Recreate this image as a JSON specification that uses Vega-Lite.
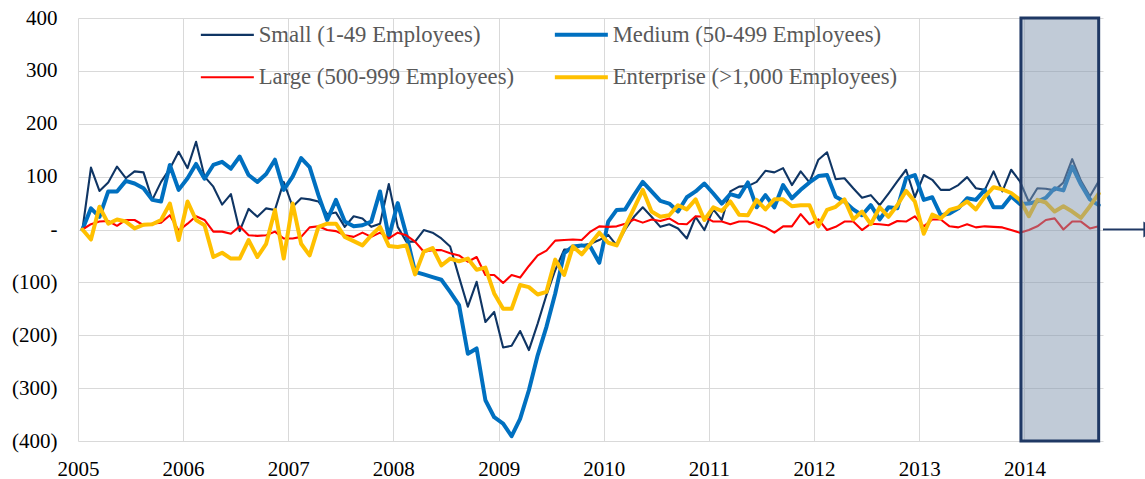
{
  "$schema": "https://vega.github.io/schema/vega-lite/v6.json",
  "width": 1025,
  "height": 423,
  "autosize": {"type": "none"},
  "padding": {"left": 78, "top": 18, "right": 42, "bottom": 38},
  "background": "white",
  "config": {
    "view": {"stroke": null},
    "font": "Liberation Serif",
    "axis": {"labelFont": "Liberation Serif", "labelFontSize": 21, "labelColor": "#000000", "gridColor": "#d9d9d9", "gridWidth": 1, "domain": false, "ticks": false, "title": null, "labelOverlap": false}
  },
  "layer": [
    {
      "data": {"values": [
        {"d":"2005-01","s":0,"m":0,"l":0,"e":0},
        {"d":"2005-02","s":117,"m":40,"l":10,"e":-19},
        {"d":"2005-03","s":73,"m":24,"l":15,"e":43},
        {"d":"2005-04","s":89,"m":72,"l":16,"e":11},
        {"d":"2005-05","s":119,"m":72,"l":7,"e":19},
        {"d":"2005-06","s":97,"m":92,"l":18,"e":15},
        {"d":"2005-07","s":110,"m":87,"l":18,"e":2},
        {"d":"2005-08","s":108,"m":78,"l":8,"e":9},
        {"d":"2005-09","s":56,"m":56,"l":11,"e":10},
        {"d":"2005-10","s":90,"m":53,"l":13,"e":18},
        {"d":"2005-11","s":115,"m":122,"l":27,"e":49},
        {"d":"2005-12","s":147,"m":75,"l":-2,"e":-20},
        {"d":"2006-01","s":116,"m":97,"l":11,"e":53},
        {"d":"2006-02","s":166,"m":124,"l":25,"e":18},
        {"d":"2006-03","s":100,"m":96,"l":18,"e":8},
        {"d":"2006-04","s":81,"m":122,"l":-4,"e":-52},
        {"d":"2006-05","s":47,"m":128,"l":-4,"e":-44},
        {"d":"2006-06","s":67,"m":115,"l":-8,"e":-55},
        {"d":"2006-07","s":-3,"m":138,"l":6,"e":-55},
        {"d":"2006-08","s":39,"m":103,"l":-11,"e":-20},
        {"d":"2006-09","s":24,"m":90,"l":-12,"e":-52},
        {"d":"2006-10","s":40,"m":105,"l":-11,"e":-27},
        {"d":"2006-11","s":37,"m":132,"l":-4,"e":37},
        {"d":"2006-12","s":90,"m":75,"l":-17,"e":-55},
        {"d":"2007-01","s":43,"m":100,"l":-17,"e":49},
        {"d":"2007-02","s":59,"m":135,"l":-14,"e":-27},
        {"d":"2007-03","s":57,"m":118,"l":4,"e":-49},
        {"d":"2007-04","s":53,"m":65,"l":6,"e":5},
        {"d":"2007-05","s":29,"m":18,"l":-1,"e":11},
        {"d":"2007-06","s":32,"m":56,"l":-3,"e":11},
        {"d":"2007-07","s":5,"m":15,"l":-11,"e":-14},
        {"d":"2007-08","s":25,"m":6,"l":-14,"e":-22},
        {"d":"2007-09","s":21,"m":8,"l":-6,"e":-30},
        {"d":"2007-10","s":5,"m":15,"l":-14,"e":-11},
        {"d":"2007-11","s":11,"m":72,"l":-6,"e":5},
        {"d":"2007-12","s":86,"m":-15,"l":-17,"e":-31},
        {"d":"2008-01","s":5,"m":50,"l":-6,"e":-33},
        {"d":"2008-02","s":-23,"m":-10,"l":-11,"e":-30},
        {"d":"2008-03","s":-23,"m":-80,"l":-23,"e":-85},
        {"d":"2008-04","s":-1,"m":-85,"l":-42,"e":-42},
        {"d":"2008-05","s":-6,"m":-90,"l":-39,"e":-35},
        {"d":"2008-06","s":-17,"m":-95,"l":-39,"e":-68},
        {"d":"2008-07","s":-32,"m":-118,"l":-45,"e":-55},
        {"d":"2008-08","s":-90,"m":-143,"l":-49,"e":-60},
        {"d":"2008-09","s":-146,"m":-235,"l":-61,"e":-55},
        {"d":"2008-10","s":-99,"m":-225,"l":-52,"e":-76},
        {"d":"2008-11","s":-175,"m":-323,"l":-86,"e":-72},
        {"d":"2008-12","s":-156,"m":-355,"l":-86,"e":-121},
        {"d":"2009-01","s":-223,"m":-367,"l":-101,"e":-150},
        {"d":"2009-02","s":-220,"m":-391,"l":-86,"e":-150},
        {"d":"2009-03","s":-192,"m":-358,"l":-91,"e":-105},
        {"d":"2009-04","s":-228,"m":-304,"l":-69,"e":-109},
        {"d":"2009-05","s":-178,"m":-238,"l":-49,"e":-123},
        {"d":"2009-06","s":-124,"m":-184,"l":-40,"e":-118},
        {"d":"2009-07","s":-77,"m":-121,"l":-21,"e":-57},
        {"d":"2009-08","s":-38,"m":-45,"l":-20,"e":-86},
        {"d":"2009-09","s":-38,"m":-32,"l":-19,"e":-32},
        {"d":"2009-10","s":-30,"m":-30,"l":-20,"e":-47},
        {"d":"2009-11","s":-27,"m":-33,"l":-4,"e":-27},
        {"d":"2009-12","s":-20,"m":-63,"l":6,"e":-6},
        {"d":"2010-01","s":-10,"m":15,"l":5,"e":-25},
        {"d":"2010-02","s":-30,"m":37,"l":6,"e":-30},
        {"d":"2010-03","s":0,"m":38,"l":11,"e":5},
        {"d":"2010-04","s":24,"m":65,"l":19,"e":40},
        {"d":"2010-05","s":42,"m":90,"l":13,"e":75},
        {"d":"2010-06","s":24,"m":72,"l":19,"e":34},
        {"d":"2010-07","s":5,"m":54,"l":16,"e":24},
        {"d":"2010-08","s":10,"m":49,"l":21,"e":27},
        {"d":"2010-09","s":2,"m":34,"l":11,"e":46},
        {"d":"2010-10","s":-17,"m":61,"l":10,"e":38},
        {"d":"2010-11","s":24,"m":72,"l":25,"e":57},
        {"d":"2010-12","s":-1,"m":87,"l":24,"e":18},
        {"d":"2011-01","s":38,"m":68,"l":15,"e":42},
        {"d":"2011-02","s":18,"m":49,"l":15,"e":35},
        {"d":"2011-03","s":72,"m":67,"l":10,"e":53},
        {"d":"2011-04","s":81,"m":62,"l":15,"e":28},
        {"d":"2011-05","s":82,"m":89,"l":15,"e":27},
        {"d":"2011-06","s":90,"m":42,"l":10,"e":56},
        {"d":"2011-07","s":111,"m":65,"l":4,"e":38},
        {"d":"2011-08","s":108,"m":42,"l":-6,"e":57},
        {"d":"2011-09","s":116,"m":84,"l":6,"e":57},
        {"d":"2011-10","s":84,"m":59,"l":6,"e":44},
        {"d":"2011-11","s":110,"m":75,"l":29,"e":46},
        {"d":"2011-12","s":89,"m":89,"l":10,"e":46},
        {"d":"2012-01","s":132,"m":101,"l":19,"e":6},
        {"d":"2012-02","s":146,"m":103,"l":-1,"e":37},
        {"d":"2012-03","s":95,"m":62,"l":5,"e":43},
        {"d":"2012-04","s":97,"m":53,"l":15,"e":57},
        {"d":"2012-05","s":78,"m":38,"l":15,"e":19},
        {"d":"2012-06","s":60,"m":27,"l":-1,"e":34},
        {"d":"2012-07","s":65,"m":46,"l":11,"e":10},
        {"d":"2012-08","s":46,"m":19,"l":10,"e":42},
        {"d":"2012-09","s":68,"m":42,"l":8,"e":24},
        {"d":"2012-10","s":91,"m":40,"l":16,"e":46},
        {"d":"2012-11","s":113,"m":97,"l":15,"e":73},
        {"d":"2012-12","s":61,"m":103,"l":25,"e":53},
        {"d":"2013-01","s":103,"m":56,"l":6,"e":-8},
        {"d":"2013-02","s":94,"m":61,"l":19,"e":28},
        {"d":"2013-03","s":75,"m":27,"l":19,"e":21},
        {"d":"2013-04","s":75,"m":30,"l":6,"e":37},
        {"d":"2013-05","s":84,"m":40,"l":4,"e":42},
        {"d":"2013-06","s":99,"m":59,"l":10,"e":53},
        {"d":"2013-07","s":78,"m":56,"l":4,"e":38},
        {"d":"2013-08","s":75,"m":75,"l":6,"e":62},
        {"d":"2013-09","s":110,"m":42,"l":5,"e":80},
        {"d":"2013-10","s":72,"m":42,"l":4,"e":76},
        {"d":"2013-11","s":113,"m":63,"l":-1,"e":69},
        {"d":"2013-12","s":91,"m":48,"l":-6,"e":56},
        {"d":"2014-01","s":52,"m":49,"l":-1,"e":25},
        {"d":"2014-02","s":78,"m":53,"l":6,"e":56},
        {"d":"2014-03","s":77,"m":60,"l":18,"e":51},
        {"d":"2014-04","s":74,"m":78,"l":21,"e":34},
        {"d":"2014-05","s":89,"m":74,"l":0,"e":44},
        {"d":"2014-06","s":133,"m":119,"l":15,"e":34},
        {"d":"2014-07","s":92,"m":85,"l":15,"e":22},
        {"d":"2014-08","s":63,"m":57,"l":2,"e":44},
        {"d":"2014-09","s":91,"m":46,"l":6,"e":68}
      ]},
      "transform": [{"fold": ["s", "m", "l", "e"], "as": ["series", "value"]}],
      "mark": {"type": "line", "strokeJoin": "round", "strokeCap": "round"},
      "encoding": {
        "x": {
          "field": "d", "type": "temporal", "timeUnit": "utcyearmonth", "bandPosition": 0.5,
          "scale": {"type": "utc", "domain": [{"year": 2005, "month": 1, "date": 1, "utc": true}, {"year": 2014, "month": 10, "date": 1, "utc": true}]},
          "axis": {"format": "%Y", "tickCount": {"interval": "year", "step": 1}, "labelPadding": 17, "labelFlush": false, "labelDx": 4, "grid": true}
        },
        "y": {
          "field": "value", "type": "quantitative",
          "scale": {"domain": [-400, 400], "nice": false},
          "axis": {"values": [-400, -300, -200, -100, 0, 100, 200, 300, 400], "labelPadding": 21, "grid": true,
            "labelExpr": "datum.value > 0 ? datum.label + '\u00a0' : (datum.value < 0 ? '(' + format(-datum.value, 'd') + ')' : '-\u00a0')"}
        },
        "color": {
          "field": "series", "type": "nominal",
          "scale": {"domain": ["s", "l", "m", "e"], "range": ["#0f3564", "#ff0000", "#0070c0", "#ffc000"]},
          "legend": {
            "title": null, "orient": "none", "legendX": 138, "legendY": 5, "columns": 2, "columnPadding": 31, "rowPadding": 19,
            "symbolType": "stroke", "symbolSize": 2809, "labelFont": "Liberation Serif", "labelFontSize": 22.7, "labelColor": "#595959",
            "labelLimit": 600, "labelOffset": 20, "padding": 0,
            "labelExpr": "datum.value == 's' ? 'Small (1-49 Employees)' : (datum.value == 'm' ? 'Medium (50-499 Employees)' : (datum.value == 'l' ? 'Large (500-999 Employees)' : 'Enterprise (>1,000 Employees)'))",
            "encode": {"symbols": {"update": {"strokeWidth": {"signal": "datum.value == 'm' || datum.value == 'e' ? 4 : (datum.value == 's' ? 2.25 : 2)"}}}}
          }
        },
        "strokeWidth": {
          "condition": {"test": "datum.series == 'm' || datum.series == 'e'", "value": 4},
          "value": 2.1
        }
      }
    },
    {
      "data": {"values": [{"start": "2013-12-20", "end": "2014-09-16", "top": 400, "bottom": -400}]},
      "mark": {"type": "rect", "fill": "#8497b0", "fillOpacity": 0.5, "stroke": "#1f3864", "strokeWidth": 3},
      "encoding": {
        "x": {"field": "start", "type": "temporal"},
        "x2": {"field": "end"},
        "y": {"field": "top", "type": "quantitative"},
        "y2": {"field": "bottom"}
      }
    },
    {
      "data": {"values": [{"from": "2014-10-01", "to": "2015-03-05", "v": 0}]},
      "mark": {"type": "rule", "stroke": "#1f3864", "strokeWidth": 2},
      "encoding": {
        "x": {"field": "from", "type": "temporal"},
        "x2": {"field": "to"},
        "y": {"field": "v", "type": "quantitative"}
      }
    },
    {
      "data": {"values": [{"at": "2015-03-14", "v": 0}]},
      "mark": {"type": "point", "shape": "triangle-right", "filled": true, "color": "#1f3864", "size": 250, "opacity": 1},
      "encoding": {
        "x": {"field": "at", "type": "temporal"},
        "y": {"field": "v", "type": "quantitative"}
      }
    }
  ]
}
